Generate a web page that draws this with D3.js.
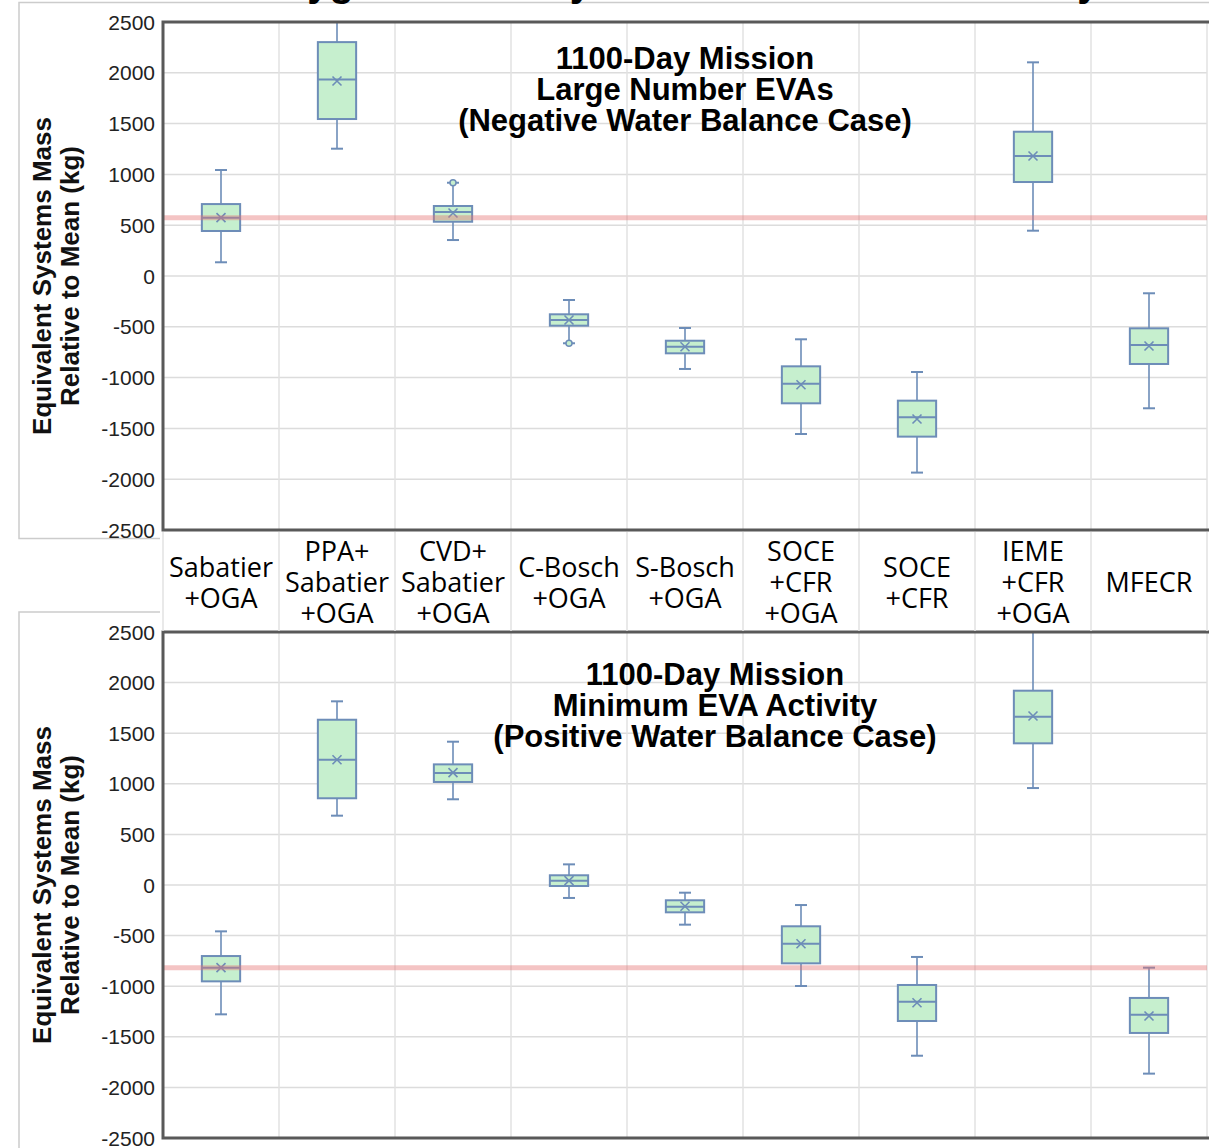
<head>
  <title>1100-Day Mission ESM box plots</title>
</head>

<body style="margin:0">
  <script src="https://d3js.org/d3.v7.min.js"></script>

  <style>
    body { background: #fff; }
    .tick-label { font: 21px "Liberation Sans", Arial, sans-serif; fill: #222; text-anchor: end; }
    .y-title { font: bold 26px "Liberation Sans", Arial, sans-serif; fill: #111; text-anchor: middle; }
    .panel-title { font: bold 31px "Liberation Sans", Arial, sans-serif; fill: #000; text-anchor: middle; }
    .cat-label { font: 27px "Open Sans", sans-serif; fill: #000; text-anchor: middle; }
  </style>

  <script>
    // categories (x axis), one entry per line of the label
    const categories = [
      ["Sabatier", "+OGA"],
      ["PPA+", "Sabatier", "+OGA"],
      ["CVD+", "Sabatier", "+OGA"],
      ["C-Bosch", "+OGA"],
      ["S-Bosch", "+OGA"],
      ["SOCE", "+CFR", "+OGA"],
      ["SOCE", "+CFR"],
      ["IEME", "+CFR", "+OGA"],
      ["MFECR"]
    ];
    const yTicks = [2500, 2000, 1500, 1000, 500, 0, -500, -1000, -1500, -2000, -2500];

    // Large Number EVAs (negative water balance)
    const negMin    = [135, 1253, 354, -662, -915, -1555, -1935, 446, -1302];
    const negQ1     = [443, 1545, 534, -489, -761, -1253, -1581, 925, -866];
    const negMedian = [574, 1935, 630, -433, -696, -1060, -1391, 1181, -679];
    const negQ3     = [708, 2302, 689, -377, -637, -889, -1227, 1420, -515];
    const negMax    = [1043, 2750, 918, -236, -512, -623, -945, 2103, -170];
    const negMean   = [574, 1919, 620, -433, -696, -1070, -1407, 1181, -689];
    const negOutliers = [{cat: 2, value: 918}, {cat: 3, value: -662}];
    const negBaseline = 574;

    // Minimum EVA activity (positive water balance)
    const posMin    = [-1278, 685, 847, -128, -392, -998, -1687, 958, -1864];
    const posQ1     = [-952, 857, 1018, -10, -270, -774, -1344, 1400, -1462];
    const posMedian = [-817, 1238, 1107, 43, -214, -580, -1153, 1663, -1281];
    const posQ3     = [-702, 1633, 1192, 96, -151, -408, -988, 1920, -1116];
    const posMax    = [-458, 1815, 1416, 204, -76, -198, -711, 2700, -817];
    const posMean   = [-817, 1238, 1110, 43, -210, -580, -1163, 1670, -1294];
    const posOutliers = [];
    const posBaseline = -817;

    const W = 1209, H = 1148;
    const plotLeft = 163, plotRight = 1207;
    const boxColor = "#6d8db8", boxFill = "#c6efce";

    const svg = d3.select("body").append("svg")
      .attr("width", W)
      .attr("height", H)
      .style("display", "block");

    const x = d3.scaleBand()
      .domain(d3.range(categories.length))
      .range([plotLeft, plotRight]);

    // cut-off heading at the very top of the slide
    svg.append("rect").attr("x", 19).attr("y", 2.5).attr("width", W).attr("height", 536)
      .attr("fill", "none").attr("stroke", "#cccccc").attr("stroke-width", 1.5);
    svg.append("text")
      .attr("x", 254).attr("y", -4)
      .style("font", "bold 40px 'Liberation Sans', Arial, sans-serif")
      .text("Oxygen Recovery Architectures Trade Study");

    // bottom slide frame
    svg.append("rect").attr("x", 19).attr("y", 612).attr("width", W).attr("height", 600)
      .attr("fill", "none").attr("stroke", "#cccccc").attr("stroke-width", 1.5);

    function drawPanel(top, bottom, d, titleLines, titleX, titleY) {
      const y = d3.scaleLinear().domain([-2500, 2500]).range([bottom, top]);
      const g = svg.append("g");
      const clipId = "clip" + top;

      g.append("clipPath").attr("id", clipId)
        .append("rect").attr("x", plotLeft).attr("y", top)
        .attr("width", plotRight - plotLeft).attr("height", bottom - top);

      // grid
      g.selectAll(".hgrid").data(yTicks).enter().append("line")
        .attr("x1", plotLeft).attr("x2", plotRight)
        .attr("y1", v => y(v)).attr("y2", v => y(v))
        .attr("stroke", "#dcdcdc").attr("stroke-width", 1.5);
      g.selectAll(".vgrid").data(d3.range(1, categories.length + 1)).enter().append("line")
        .attr("x1", i => plotLeft + i * x.bandwidth()).attr("x2", i => plotLeft + i * x.bandwidth())
        .attr("y1", top).attr("y2", bottom)
        .attr("stroke", "#e2e2e2").attr("stroke-width", 1.5);

      const bw = x.bandwidth() * 0.33, cap = 12;
      const boxes = g.append("g").attr("clip-path", "url(#" + clipId + ")");

      categories.forEach((c, i) => {
        const cx = x(i) + x.bandwidth() / 2;
        const b = boxes.append("g")
          .attr("stroke", boxColor).attr("stroke-width", 2).attr("fill", "none");
        // whiskers
        b.append("line").attr("x1", cx).attr("x2", cx)
          .attr("y1", y(d.max[i])).attr("y2", y(d.q3[i])).attr("stroke-width", 1.6);
        b.append("line").attr("x1", cx).attr("x2", cx)
          .attr("y1", y(d.q1[i])).attr("y2", y(d.min[i])).attr("stroke-width", 1.6);
        [d.max[i], d.min[i]].forEach(v => {
          b.append("line").attr("x1", cx - cap / 2).attr("x2", cx + cap / 2)
            .attr("y1", y(v)).attr("y2", y(v));
        });
        // box
        b.append("rect")
          .attr("x", cx - bw / 2).attr("width", bw)
          .attr("y", y(d.q3[i])).attr("height", y(d.q1[i]) - y(d.q3[i]))
          .attr("fill", boxFill);
        b.append("line").attr("x1", cx - bw / 2).attr("x2", cx + bw / 2)
          .attr("y1", y(d.median[i])).attr("y2", y(d.median[i]));
        // mean marker
        const my = y(d.mean[i]), m = 4.5;
        b.append("path")
          .attr("d", `M${cx - m},${my - m}L${cx + m},${my + m}M${cx - m},${my + m}L${cx + m},${my - m}`)
          .attr("stroke-width", 1.6);
      });

      boxes.selectAll(".outlier").data(d.outliers).enter().append("circle")
        .attr("cx", o => x(o.cat) + x.bandwidth() / 2)
        .attr("cy", o => y(o.value))
        .attr("r", 3)
        .attr("fill", boxFill).attr("stroke", boxColor).attr("stroke-width", 1.5);

      // reference line
      g.append("line")
        .attr("x1", plotLeft).attr("x2", plotRight)
        .attr("y1", y(d.baseline)).attr("y2", y(d.baseline))
        .attr("stroke", "#e57373").attr("stroke-opacity", 0.42).attr("stroke-width", 5);

      // frame
      g.append("path")
        .attr("d", `M${plotRight + 5},${top}H${plotLeft}V${bottom}H${plotRight + 5}`)
        .attr("fill", "none").attr("stroke", "#595959").attr("stroke-width", 3);

      g.selectAll(".tick-label").data(yTicks).enter().append("text")
        .attr("class", "tick-label")
        .attr("x", 155).attr("y", v => y(v)).attr("dy", "0.36em")
        .text(v => v);

      const midY = y(0);
      ["Equivalent Systems Mass", "Relative to Mean (kg)"].forEach((t, k) => {
        g.append("text").attr("class", "y-title")
          .attr("transform", `translate(${51 + k * 28},${midY}) rotate(-90)`)
          .text(t);
      });

      titleLines.forEach((t, k) => {
        g.append("text").attr("class", "panel-title")
          .attr("x", titleX).attr("y", titleY + k * 31)
          .text(t);
      });
    }

    drawPanel(22, 530, {
      min: negMin, q1: negQ1, median: negMedian, q3: negQ3, max: negMax,
      mean: negMean, outliers: negOutliers, baseline: negBaseline
    }, ["1100-Day Mission", "Large Number EVAs", "(Negative Water Balance Case)"], 685, 69);

    drawPanel(632, 1138, {
      min: posMin, q1: posQ1, median: posMedian, q3: posQ3, max: posMax,
      mean: posMean, outliers: posOutliers, baseline: posBaseline
    }, ["1100-Day Mission", "Minimum EVA Activity", "(Positive Water Balance Case)"], 715, 685);

    // category label strip between the two charts
    const strip = svg.append("g");
    strip.append("rect").attr("x", 160).attr("y", 534).attr("width", W - 160).attr("height", 96)
      .attr("fill", "#fff");
    strip.selectAll("line").data(d3.range(0, categories.length + 1)).enter().append("line")
      .attr("x1", i => plotLeft + i * x.bandwidth()).attr("x2", i => plotLeft + i * x.bandwidth())
      .attr("y1", 532).attr("y2", 631)
      .attr("stroke", "#e2e2e2").attr("stroke-width", 1.5);

    categories.forEach((lines, i) => {
      lines.forEach((s, k) => {
        strip.append("text").attr("class", "cat-label")
          .attr("x", x(i) + x.bandwidth() / 2)
          .attr("y", 583 + (k - (lines.length - 1) / 2) * 31)
          .attr("dy", "0.35em")
          .text(s);
      });
    });
  </script>
</body>
